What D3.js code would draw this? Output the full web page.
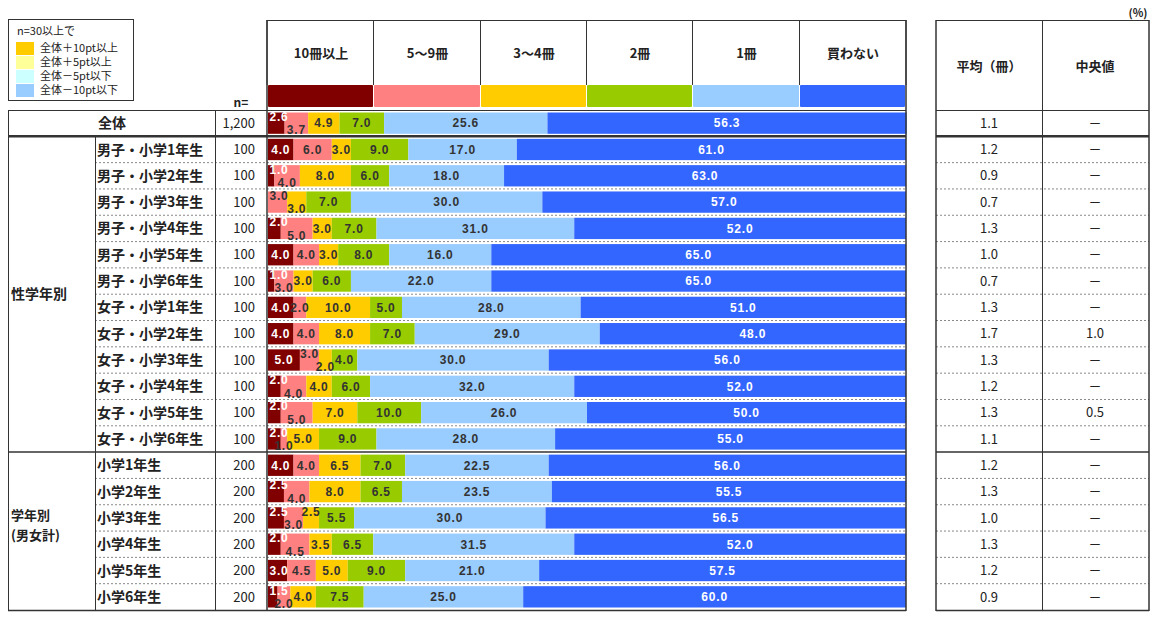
<!DOCTYPE html>
<html><head><meta charset="utf-8">
<script src="https://cdn.jsdelivr.net/npm/d3@7"></script>
<style>body{margin:0;background:#fff}text{font-family:"Noto Sans CJK JP","Noto Sans",sans-serif}text.lab{font-family:"Liberation Sans",Arial,sans-serif}</style>
</head><body><svg id="c" width="1157" height="619"></svg>
<script>
// ---- data ----
const categories = ["全体","男子・小学1年生","男子・小学2年生","男子・小学3年生","男子・小学4年生","男子・小学5年生","男子・小学6年生",
  "女子・小学1年生","女子・小学2年生","女子・小学3年生","女子・小学4年生","女子・小学5年生","女子・小学6年生",
  "小学1年生","小学2年生","小学3年生","小学4年生","小学5年生","小学6年生"];
const groupNames = ["性学年別", "学年別", "(男女計)"];
const nValues = ["1,200","100","100","100","100","100","100","100","100","100","100","100","100","200","200","200","200","200","200"];
const seriesNames = ["10冊以上","5～9冊","3～4冊","2冊","1冊","買わない"];
const books10   = [2.6,4.0,1.0,0.0,2.0,4.0,1.0,4.0,4.0,5.0,2.0,2.0,2.0,4.0,2.5,2.5,2.0,3.0,1.5];
const books5to9 = [3.7,6.0,4.0,3.0,5.0,4.0,3.0,2.0,4.0,3.0,4.0,5.0,1.0,4.0,4.0,3.0,4.5,4.5,2.0];
const books3to4 = [4.9,3.0,8.0,3.0,3.0,3.0,3.0,10.0,8.0,2.0,4.0,7.0,5.0,6.5,8.0,2.5,3.5,5.0,4.0];
const books2    = [7.0,9.0,6.0,7.0,7.0,8.0,6.0,5.0,7.0,4.0,6.0,10.0,9.0,7.0,6.5,5.5,6.5,9.0,7.5];
const books1    = [25.6,17.0,18.0,30.0,31.0,16.0,22.0,28.0,29.0,30.0,32.0,26.0,28.0,22.5,23.5,30.0,31.5,21.0,25.0];
const booksNone = [56.3,61.0,63.0,57.0,52.0,65.0,65.0,51.0,48.0,56.0,52.0,50.0,55.0,56.0,55.5,56.5,52.0,57.5,60.0];
const averages  = [1.1,1.2,0.9,0.7,1.3,1.0,0.7,1.3,1.7,1.3,1.2,1.3,1.1,1.2,1.3,1.0,1.3,1.2,0.9];
const medians   = [null,null,null,null,null,null,null,null,1.0,null,null,0.5,null,null,null,null,null,null,null];
const legendItems = ["全体＋10pt以上","全体＋5pt以上","全体－5pt以下","全体－10pt以下"];

// ---- styles ----
const colors = ["#800000","#FF8080","#FFCC00","#99CC00","#99CCFF","#3366FF"];
const whiteText = [true,false,false,false,false,true];
const legendColors = ["#FFCC00","#FFFF99","#CCFFFF","#99CCFF"];
const lineCol = "#333";

const svg = d3.select("#c");
const X0 = 268, X1 = 906;
const x = d3.scaleLinear().domain([0,100]).range([X0, X1]);
const y = d3.scaleBand().domain(d3.range(categories.length)).range([110, 610]).paddingInner(0);
const bw = y.bandwidth();

const table = categories.map((c,i)=>({i, c, v:[books10[i],books5to9[i],books3to4[i],books2[i],books1[i],booksNone[i]]}));
const stack = d3.stack().keys(d3.range(6)).value((d,k)=>d.v[k]);
const stacked = stack(table);

// ---- row dotted separators ----
const gDash = svg.append("g");
d3.range(1, categories.length).forEach(i=>{
  if (i===1 || i===13) return;
  gDash.append("line").attr("x1",95).attr("x2",906).attr("y1",y(i)).attr("y2",y(i))
    .attr("stroke","#888").attr("stroke-dasharray","2,2").attr("stroke-width",1);
  gDash.append("line").attr("x1",936).attr("x2",1149).attr("y1",y(i)).attr("y2",y(i))
    .attr("stroke","#888").attr("stroke-dasharray","2,2").attr("stroke-width",1);
});

// ---- bars ----
const gBars = svg.append("g");
stacked.forEach((layer,k)=>{
  gBars.selectAll(null).data(layer.filter(d=>d[1]-d[0]>0)).enter().append("rect")
    .attr("x",d=>x(d[0])).attr("width",d=>x(d[1])-x(d[0]))
    .attr("y",d=>y(d.data.i)+2.5).attr("height",bw-5)
    .attr("fill",colors[k]);
});

// ---- bar labels with stagger ----
const gLab = svg.append("g");
table.forEach((row)=>{
  const labs=[];
  stacked.forEach((layer,k)=>{
    const d=layer[row.i]; const v=d[1]-d[0];
    if(v<=0) return;
    const t=gLab.append("text").attr("class","lab").text(d3.format(".1f")(v))
      .attr("font-size","12px").attr("font-weight","bold").attr("letter-spacing","0.8px")
      .attr("text-anchor","middle").attr("fill",whiteText[k]?"#fff":"#333");
    const w=t.node().getComputedTextLength();
    let cx=(x(d[0])+x(d[1]))/2;
    cx=Math.max(cx, X0+w/2+1.5);
    labs.push({t,cx,w,off:0});
  });
  for(let j=1;j<labs.length;j++){
    const p=labs[j-1], c=labs[j];
    const overlap=(p.cx+p.w/2)-(c.cx-c.w/2);
    if(overlap>0.5){
      if(p.off===0){p.off=-1;c.off=1;} else {c.off=-p.off;}
    }
  }
  const cy=y(row.i)+bw/2;
  labs.forEach(l=>{
    l.t.attr("x",l.cx).attr("y",cy+(l.off<0?-6.5:l.off>0?7:0)).attr("dy","0.36em");
  });
});

// ---- grid lines ----
const g = svg.append("g").attr("stroke",lineCol).attr("fill","none");
function L(x1,y1,x2,y2,w){g.append("line").attr("x1",x1).attr("y1",y1).attr("x2",x2).attr("y2",y2).attr("stroke-width",w||1);}
L(267,20.5,906,20.5);
d3.range(7).forEach(k=>{const xx=k===0?267:(k===6?906:Math.round(x(0)+(x(100)-x(0))*k/6)-0.5); L(xx,20,xx,85);});
const hdr = svg.append("g");
seriesNames.forEach((s,k)=>{
  const xa = k===0?268:Math.round(x(0)+(x(100)-x(0))*k/6);
  const xb = Math.round(x(0)+(x(100)-x(0))*(k+1)/6);
  hdr.append("rect").attr("x",xa).attr("y",85).attr("width",xb-xa-1).attr("height",22).attr("fill",colors[k]).attr("rx",1);
  hdr.append("text").text(s).attr("x",(xa+xb)/2).attr("y",53).attr("dy","0.35em")
    .attr("text-anchor","middle").attr("font-size","13px").attr("font-weight","bold").attr("fill","#222");
});
L(8,110.5,906,110.5);
L(8,y(1),906,y(1),2.5);
L(8,y(13),906,y(13),1.5);
L(8,610.5,906,610.5,1.5);
L(8.5,110,8.5,611);
L(95.5,y(1),95.5,611);
L(215.5,110,215.5,611);
L(267,20,267,611,1.5);
L(906,20,906,611,1.5);
L(936,20.5,1149,20.5); L(936,110.5,1149,110.5); L(936,y(1),1149,y(1),2.5);
L(936,y(13),1149,y(13),1.5); L(936,610.5,1149,610.5,1.5);
L(936,20,936,611,1.5); L(1042.5,20,1042.5,611); L(1149,20,1149,611,1.5);

// ---- left labels ----
const gt = svg.append("g").attr("fill","#222");
categories.forEach((c,i)=>{
  const cy=y(i)+bw/2;
  if(i===0){
    gt.append("text").text(c).attr("x",112).attr("y",cy).attr("dy","0.36em").attr("text-anchor","middle")
      .attr("font-size","14px").attr("font-weight","bold");
  } else {
    gt.append("text").text(c).attr("x",97).attr("y",cy).attr("dy","0.36em")
      .attr("font-size","14px").attr("font-weight","bold");
  }
  gt.append("text").text(nValues[i]).attr("x",255).attr("y",cy).attr("dy","0.36em").attr("text-anchor","end")
    .attr("font-size","13px");
  gt.append("text").text(d3.format(".1f")(averages[i])).attr("x",989).attr("y",cy).attr("dy","0.36em")
    .attr("text-anchor","middle").attr("font-size","13px");
  gt.append("text").text(medians[i]==null?"－":d3.format(".1f")(medians[i])).attr("x",1095).attr("y",cy).attr("dy","0.36em")
    .attr("text-anchor","middle").attr("font-size","13px");
});
gt.append("text").text(groupNames[0]).attr("x",11).attr("y",294).attr("dy","0.36em").attr("font-size","14px").attr("font-weight","bold");
gt.append("text").text(groupNames[1]).attr("x",11).attr("y",515).attr("dy","0.36em").attr("font-size","13px").attr("font-weight","bold");
gt.append("text").text(groupNames[2]).attr("x",11).attr("y",535).attr("dy","0.36em").attr("font-size","13px").attr("font-weight","bold");
gt.append("text").text("n=").attr("x",241).attr("y",103).attr("dy","0.36em").attr("text-anchor","middle").attr("font-size","12px").attr("font-weight","bold");
gt.append("text").text("平均（冊）").attr("x",989).attr("y",66).attr("dy","0.36em").attr("text-anchor","middle").attr("font-size","13px").attr("font-weight","bold");
gt.append("text").text("中央値").attr("x",1095).attr("y",66).attr("dy","0.36em").attr("text-anchor","middle").attr("font-size","13px").attr("font-weight","bold");
gt.append("text").text("(%)").attr("x",1138).attr("y",13).attr("dy","0.36em").attr("text-anchor","middle").attr("font-size","11px").attr("font-weight","bold");

// ---- legend ----
const lg = svg.append("g");
lg.append("rect").attr("x",8.5).attr("y",19.5).attr("width",125).attr("height",81).attr("fill","#fff").attr("stroke",lineCol);
lg.append("text").text("n=30以上で").attr("x",17).attr("y",31).attr("dy","0.36em").attr("font-size","11px").attr("fill","#222");
legendItems.forEach((s,k)=>{
  lg.append("rect").attr("x",16).attr("y",42+k*14).attr("width",18).attr("height",13).attr("fill",legendColors[k]);
  lg.append("text").text(s).attr("x",40).attr("y",48.5+k*14).attr("dy","0.36em").attr("font-size","11px").attr("fill","#222");
});
</script></body></html>
